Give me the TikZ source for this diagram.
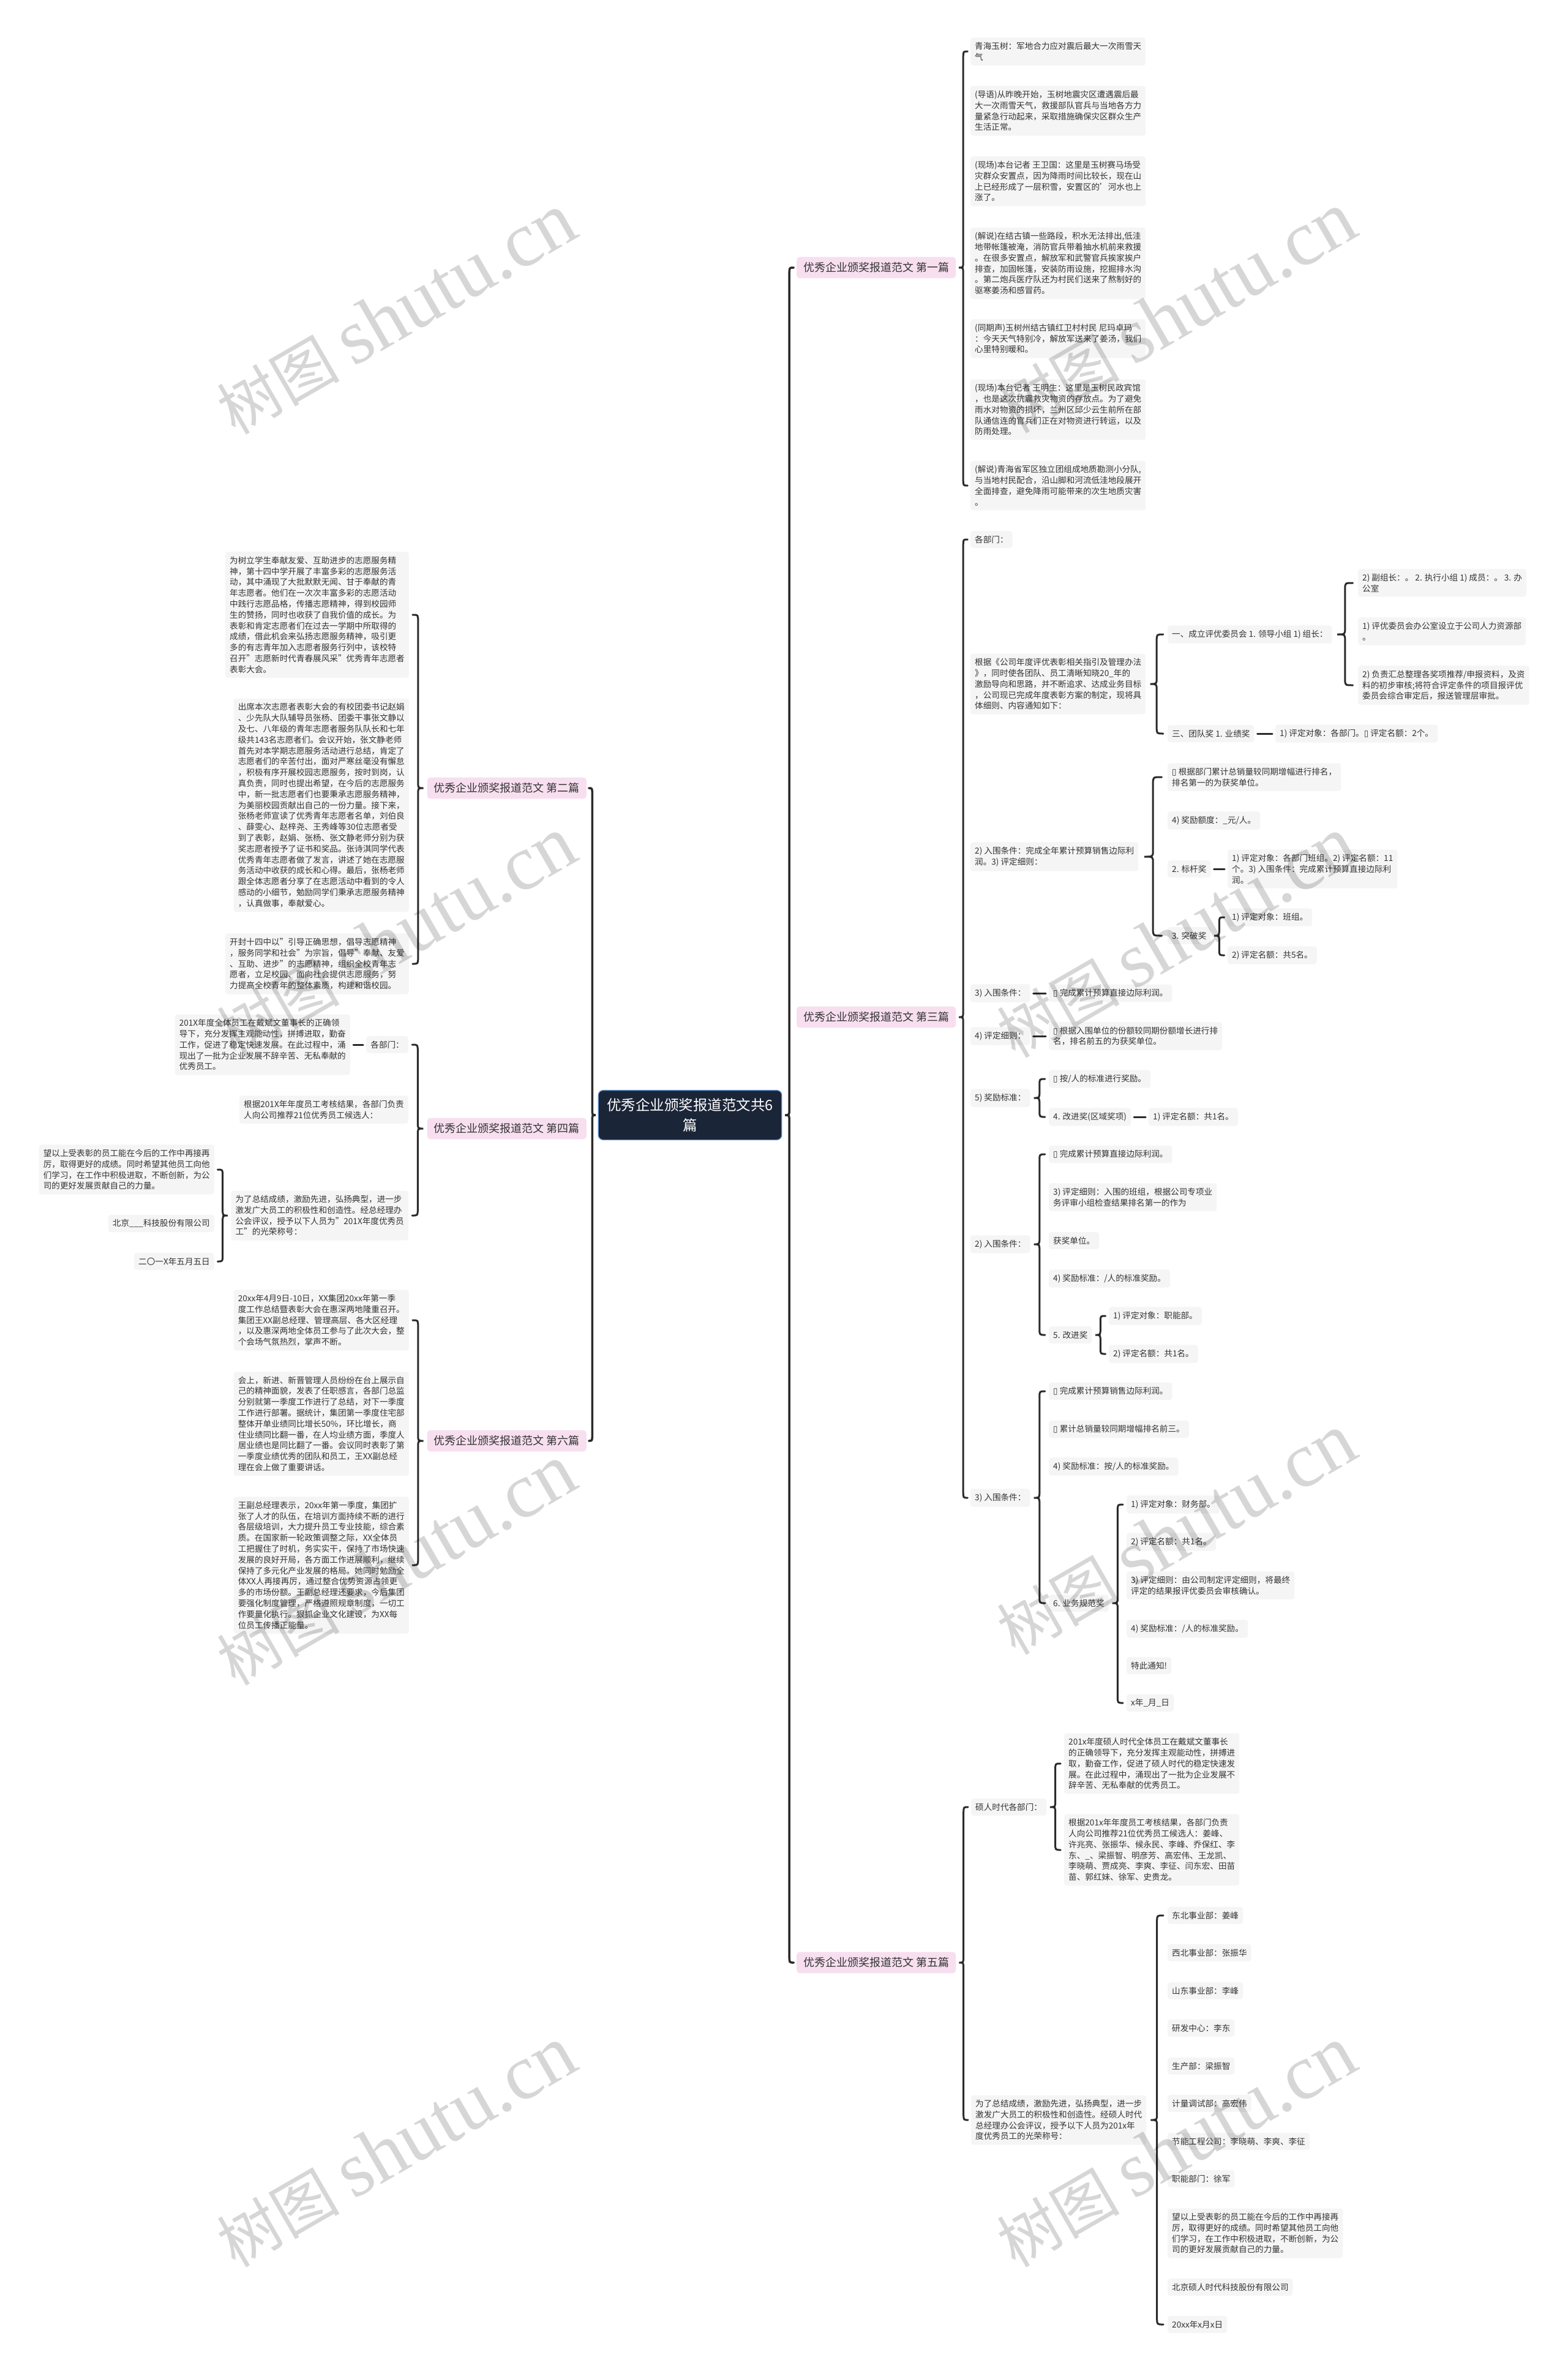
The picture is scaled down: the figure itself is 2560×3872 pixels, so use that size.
\documentclass[tikz,border=0pt]{standalone}
\usepackage{fontspec}
\setmainfont{Noto Sans CJK SC}
\newfontfamily\djv{DejaVu Sans}
\newfontfamily\wmserif{Liberation Serif}
\usetikzlibrary{calc}
\definecolor{leafbg}{HTML}{F5F5F5}
\definecolor{pinkbg}{HTML}{F7DFF0}
\definecolor{navyfill}{HTML}{1B2538}
\definecolor{navyline}{HTML}{5B8BC5}
\definecolor{txt}{HTML}{333333}
\definecolor{linec}{HTML}{2A2A2A}
\newcommand\boxglyph{{\djv ▯}}
\tikzset{
  leaf/.style={fill=leafbg, rounded corners=4pt, inner xsep=7pt, inner ysep=7.5pt, align=left, text=txt, font=\fontsize{13.6}{17.8}\selectfont},
  branch/.style={fill=pinkbg, rounded corners=5pt, inner xsep=11pt, inner ysep=9pt, text=txt, font=\fontsize{18}{22}\selectfont},
  rootnode/.style={fill=navyfill, draw=navyline, line width=1.3pt, rounded corners=8pt, inner xsep=14pt, inner ysep=13pt, align=center, text=white, font=\fontsize{23.5}{33}\selectfont},
  conn/.style={draw=linec, line width=3pt, line cap=round},
  rootconn/.style={draw=linec, line width=3.5pt, line cap=round},
  single/.style={conn, shorten <=5pt, shorten >=5pt},
  wm/.style={text=black, text opacity=0.16, rotate=30, inner sep=0pt, font=\fontsize{100}{100}\selectfont}
}
% brace to the right: parent, first child, last child
\newcommand\bracer[4][conn]{%
  \draw[#1] let \p1=(#2.east), \p2=(#3.west), \p3=(#4.west),
    \p4=($(\p1)!0.5!(\p2)$), \p5=($(\p1)!0.2!(\p2)$), \p6=($(\p1)!0.8!(\p2)$) in
    (\x6,\y2) .. controls (\x4,\y2) .. (\x4,{\y2-10pt}) -- (\x4,{\y1+10pt})
    .. controls (\x4,\y1) .. (\x5,\y1) .. controls (\x4,\y1) .. (\x4,{\y1-10pt})
    -- (\x4,{\y3+10pt}) .. controls (\x4,\y3) .. (\x6,\y3);}
% brace to the left
\newcommand\bracel[4][conn]{%
  \draw[#1] let \p1=(#2.west), \p2=(#3.east), \p3=(#4.east),
    \p4=($(\p1)!0.5!(\p2)$), \p5=($(\p1)!0.2!(\p2)$), \p6=($(\p1)!0.8!(\p2)$) in
    (\x6,\y2) .. controls (\x4,\y2) .. (\x4,{\y2-10pt}) -- (\x4,{\y1+10pt})
    .. controls (\x4,\y1) .. (\x5,\y1) .. controls (\x4,\y1) .. (\x4,{\y1-10pt})
    -- (\x4,{\y3+10pt}) .. controls (\x4,\y3) .. (\x6,\y3);}
\begin{document}
\begin{tikzpicture}[x=1pt,y=-1pt]
\useasboundingbox (0,0) rectangle (2560,3872);
\fill[white] (0,0) rectangle (2560,3872);

% root
\node[rootnode] (root) at (1127,1821) {优秀企业颁奖报道范文共6\\篇};

% branches
\node[branch, anchor=west] (sec1) at (1301,437) {优秀企业颁奖报道范文 第一篇};
\node[branch, anchor=west] (sec3) at (1301,1661) {优秀企业颁奖报道范文 第三篇};
\node[branch, anchor=west] (sec5) at (1301,3205) {优秀企业颁奖报道范文 第五篇};
\node[branch, anchor=east] (sec2) at (958,1287) {优秀企业颁奖报道范文 第二篇};
\node[branch, anchor=east] (sec4) at (958,1843) {优秀企业颁奖报道范文 第四篇};
\node[branch, anchor=east] (sec6) at (958,2353) {优秀企业颁奖报道范文 第六篇};

% ---------- section 1
\node[leaf, anchor=west] (s1a) at (1585,84) {青海玉树：军地合力应对震后最大一次雨雪天\\气};
\node[leaf, anchor=west] (s1b) at (1585,181) {(导语)从昨晚开始，玉树地震灾区遭遇震后最\\大一次雨雪天气，救援部队官兵与当地各方力\\量紧急行动起来，采取措施确保灾区群众生产\\生活正常。};
\node[leaf, anchor=west] (s1c) at (1585,296) {(现场)本台记者 王卫国：这里是玉树赛马场受\\灾群众安置点，因为降雨时间比较长，现在山\\上已经形成了一层积雪，安置区的'河水也上\\涨了。};
\node[leaf, anchor=west] (s1d) at (1585,430) {(解说)在结古镇一些路段，积水无法排出,低洼\\地带帐篷被淹，消防官兵带着抽水机前来救援\\。在很多安置点，解放军和武警官兵挨家挨户\\排查，加固帐篷，安装防雨设施，挖掘排水沟\\。第二炮兵医疗队还为村民们送来了熬制好的\\驱寒姜汤和感冒药。};
\node[leaf, anchor=west] (s1e) at (1585,553) {(同期声)玉树州结古镇红卫村村民 尼玛卓玛\\：今天天气特别冷，解放军送来了姜汤，我们\\心里特别暖和。};
\node[leaf, anchor=west] (s1f) at (1585,669) {(现场)本台记者 王明生：这里是玉树民政宾馆\\，也是这次抗震救灾物资的存放点。为了避免\\雨水对物资的损坏，兰州区邱少云生前所在部\\队通信连的官兵们正在对物资进行转运，以及\\防雨处理。};
\node[leaf, anchor=west] (s1g) at (1585,793) {(解说)青海省军区独立团组成地质勘测小分队,\\与当地村民配合，沿山脚和河流低洼地段展开\\全面排查，避免降雨可能带来的次生地质灾害\\。};

% ---------- section 3
\node[leaf, anchor=west] (s3a) at (1585,881) {各部门：};
\node[leaf, anchor=west] (s3b) at (1585,1117) {根据《公司年度评优表彰相关指引及管理办法\\》，同时使各团队、员工清晰知晓20\_年的\\激励导向和思路，并不断追求、达成业务目标\\，公司现已完成年度表彰方案的制定，现将具\\体细则、内容通知如下：};
\node[leaf, anchor=west] (s3b1) at (1907,1036) {一、成立评优委员会 1. 领导小组 1) 组长：};
\node[leaf, anchor=west] (s3b1a) at (2218,952) {2) 副组长：。 2. 执行小组 1) 成员：。 3. 办\\公室};
\node[leaf, anchor=west] (s3b1b) at (2218,1031) {1) 评优委员会办公室设立于公司人力资源部\\。};
\node[leaf, anchor=west] (s3b1c) at (2218,1119) {2) 负责汇总整理各奖项推荐/申报资料，及资\\料的初步审核;将符合评定条件的项目报评优\\委员会综合审定后，报送管理层审批。};
\node[leaf, anchor=west] (s3b2) at (1907,1198) {三、团队奖 1. 业绩奖};
\node[leaf, anchor=west] (s3b2a) at (2083,1198) {1) 评定对象：各部门。\boxglyph{} 评定名额：2个。};
\node[leaf, anchor=west] (s3c) at (1585,1399) {2) 入围条件：完成全年累计预算销售边际利\\润。3) 评定细则：};
\node[leaf, anchor=west] (s3c1) at (1907,1269) {\boxglyph{} 根据部门累计总销量较同期增幅进行排名，\\排名第一的为获奖单位。};
\node[leaf, anchor=west] (s3c2) at (1907,1340) {4) 奖励额度：\_元/人。};
\node[leaf, anchor=west] (s3c3) at (1907,1419) {2. 标杆奖};
\node[leaf, anchor=west] (s3c3a) at (2005,1419) {1) 评定对象：各部门班组。2) 评定名额：11\\个。3) 入围条件：完成累计预算直接边际利\\润。};
\node[leaf, anchor=west] (s3c4) at (1907,1528) {3. 突破奖};
\node[leaf, anchor=west] (s3c4a) at (2005,1498) {1) 评定对象：班组。};
\node[leaf, anchor=west] (s3c4b) at (2005,1560) {2) 评定名额：共5名。};
\node[leaf, anchor=west] (s3d) at (1585,1622) {3) 入围条件：};
\node[leaf, anchor=west] (s3d1) at (1713,1622) {\boxglyph{} 完成累计预算直接边际利润。};
\node[leaf, anchor=west] (s3e) at (1585,1692) {4) 评定细则：};
\node[leaf, anchor=west] (s3e1) at (1713,1692) {\boxglyph{} 根据入围单位的份额较同期份额增长进行排\\名，排名前五的为获奖单位。};
\node[leaf, anchor=west] (s3f) at (1585,1793) {5) 奖励标准：};
\node[leaf, anchor=west] (s3f1) at (1713,1762) {\boxglyph{} 按/人的标准进行奖励。};
\node[leaf, anchor=west] (s3f2) at (1713,1824) {4. 改进奖(区域奖项)};
\node[leaf, anchor=west] (s3f2a) at (1876,1824) {1) 评定名额：共1名。};
\node[leaf, anchor=west] (s3g) at (1585,2032) {2) 入围条件：};
\node[leaf, anchor=west] (s3g1) at (1713,1885) {\boxglyph{} 完成累计预算直接边际利润。};
\node[leaf, anchor=west] (s3g2) at (1713,1955) {3) 评定细则：入围的班组，根据公司专项业\\务评审小组检查结果排名第一的作为};
\node[leaf, anchor=west] (s3g3) at (1713,2026) {获奖单位。};
\node[leaf, anchor=west] (s3g4) at (1713,2088) {4) 奖励标准：/人的标准奖励。};
\node[leaf, anchor=west] (s3g5) at (1713,2180) {5. 改进奖};
\node[leaf, anchor=west] (s3g5a) at (1811,2149) {1) 评定对象：职能部。};
\node[leaf, anchor=west] (s3g5b) at (1811,2211) {2) 评定名额：共1名。};
\node[leaf, anchor=west] (s3h) at (1585,2446) {3) 入围条件：};
\node[leaf, anchor=west] (s3h1) at (1713,2272) {\boxglyph{} 完成累计预算销售边际利润。};
\node[leaf, anchor=west] (s3h2) at (1713,2334) {\boxglyph{} 累计总销量较同期增幅排名前三。};
\node[leaf, anchor=west] (s3h3) at (1713,2395) {4) 奖励标准：按/人的标准奖励。};
\node[leaf, anchor=west] (s3h4) at (1713,2618) {6. 业务规范奖};
\node[leaf, anchor=west] (s3h4a) at (1840,2457) {1) 评定对象：财务部。};
\node[leaf, anchor=west] (s3h4b) at (1840,2518) {2) 评定名额：共1名。};
\node[leaf, anchor=west] (s3h4c) at (1840,2589) {3) 评定细则：由公司制定评定细则，将最终\\评定的结果报评优委员会审核确认。};
\node[leaf, anchor=west] (s3h4d) at (1840,2660) {4) 奖励标准：/人的标准奖励。};
\node[leaf, anchor=west] (s3h4e) at (1840,2720) {特此通知!};
\node[leaf, anchor=west] (s3h4f) at (1840,2781) {x年\_月\_日};

% ---------- section 5
\node[leaf, anchor=west] (s5a) at (1586,2951) {硕人时代各部门：};
\node[leaf, anchor=west] (s5a1) at (1738,2880) {201x年度硕人时代全体员工在戴斌文董事长\\的正确领导下，充分发挥主观能动性，拼搏进\\取，勤奋工作，促进了硕人时代的稳定快速发\\展。在此过程中，涌现出了一批为企业发展不\\辞辛苦、无私奉献的优秀员工。};
\node[leaf, anchor=west] (s5a2) at (1738,3021) {根据201x年年度员工考核结果，各部门负责\\人向公司推荐21位优秀员工候选人：姜峰、\\许兆亮、张振华、候永民、李峰、乔保红、李\\东、\_、梁振智、明彦芳、高宏伟、王龙凯、\\李晓萌、贾成亮、李爽、李征、闫东宏、田苗\\苗、郭红妹、徐军、史贵龙。};
\node[leaf, anchor=west] (s5b) at (1586,3462) {为了总结成绩，激励先进，弘扬典型，进一步\\激发广大员工的积极性和创造性。经硕人时代\\总经理办公会评议，授予以下人员为201x年\\度优秀员工的光荣称号：};
\node[leaf, anchor=west] (s5b1) at (1907,3128) {东北事业部：姜峰};
\node[leaf, anchor=west] (s5b2) at (1907,3189) {西北事业部：张振华};
\node[leaf, anchor=west] (s5b3) at (1907,3251) {山东事业部：李峰};
\node[leaf, anchor=west] (s5b4) at (1907,3312) {研发中心：李东};
\node[leaf, anchor=west] (s5b5) at (1907,3374) {生产部：梁振智};
\node[leaf, anchor=west] (s5b6) at (1907,3435) {计量调试部：高宏伟};
\node[leaf, anchor=west] (s5b7) at (1907,3497) {节能工程公司：李晓萌、李爽、李征};
\node[leaf, anchor=west] (s5b8) at (1907,3558) {职能部门：徐军};
\node[leaf, anchor=west] (s5b9) at (1907,3647) {望以上受表彰的员工能在今后的工作中再接再\\厉，取得更好的成绩。同时希望其他员工向他\\们学习，在工作中积极进取，不断创新，为公\\司的更好发展贡献自己的力量。};
\node[leaf, anchor=west] (s5b10) at (1907,3735) {北京硕人时代科技股份有限公司};
\node[leaf, anchor=west] (s5b11) at (1907,3796) {20xx年x月x日};

% ---------- section 2
\node[leaf, anchor=east] (s2a) at (668,1004) {为树立学生奉献友爱、互助进步的志愿服务精\\神，第十四中学开展了丰富多彩的志愿服务活\\动，其中涌现了大批默默无闻、甘于奉献的青\\年志愿者。他们在一次次丰富多彩的志愿活动\\中践行志愿品格，传播志愿精神，得到校园师\\生的赞扬，同时也收获了自我价值的成长。为\\表彰和肯定志愿者们在过去一学期中所取得的\\成绩，借此机会来弘扬志愿服务精神，吸引更\\多的有志青年加入志愿者服务行列中，该校特\\召开"志愿新时代青春展风采"优秀青年志愿者\\表彰大会。};
\node[leaf, anchor=east] (s2b) at (668,1315) {出席本次志愿者表彰大会的有校团委书记赵娟\\、少先队大队辅导员张杨、团委干事张文静以\\及七、八年级的青年志愿者服务队队长和七年\\级共143名志愿者们。会议开始，张文静老师\\首先对本学期志愿服务活动进行总结，肯定了\\志愿者们的辛苦付出，面对严寒丝毫没有懈怠\\，积极有序开展校园志愿服务，按时到岗，认\\真负责，同时也提出希望，在今后的志愿服务\\中，新一批志愿者们也要秉承志愿服务精神，\\为美丽校园贡献出自己的一份力量。接下来，\\张杨老师宣读了优秀青年志愿者名单，刘伯良\\、薛雯心、赵梓尧、王秀峰等30位志愿者受\\到了表彰，赵娟、张杨、张文静老师分别为获\\奖志愿者授予了证书和奖品。张诗淇同学代表\\优秀青年志愿者做了发言，讲述了她在志愿服\\务活动中收获的成长和心得。最后，张杨老师\\跟全体志愿者分享了在志愿活动中看到的令人\\感动的小细节，勉励同学们秉承志愿服务精神\\，认真做事，奉献爱心。};
\node[leaf, anchor=east] (s2c) at (668,1574) {开封十四中以"引导正确思想，倡导志愿精神\\，服务同学和社会"为宗旨，倡导"奉献、友爱\\、互助、进步"的志愿精神，组织全校青年志\\愿者，立足校园、面向社会提供志愿服务，努\\力提高全校青年的整体素质，构建和谐校园。};

% ---------- section 4
\node[leaf, anchor=east] (s4a) at (667,1706) {各部门：};
\node[leaf, anchor=east] (s4a1) at (572,1706) {201X年度全体员工在戴斌文董事长的正确领\\导下，充分发挥主观能动性，拼搏进取，勤奋\\工作，促进了稳定快速发展。在此过程中，涌\\现出了一批为企业发展不辞辛苦、无私奉献的\\优秀员工。};
\node[leaf, anchor=east] (s4b) at (667,1812) {根据201X年年度员工考核结果，各部门负责\\人向公司推荐21位优秀员工候选人：};
\node[leaf, anchor=east] (s4c) at (667,1985) {为了总结成绩，激励先进，弘扬典型，进一步\\激发广大员工的积极性和创造性。经总经理办\\公会评议，授予以下人员为"201X年度优秀员\\工"的光荣称号：};
\node[leaf, anchor=east] (s4c1) at (350,1910) {望以上受表彰的员工能在今后的工作中再接再\\厉，取得更好的成绩。同时希望其他员工向他\\们学习，在工作中积极进取，不断创新，为公\\司的更好发展贡献自己的力量。};
\node[leaf, anchor=east] (s4c2) at (350,1998) {北京\_\_\_科技股份有限公司};
\node[leaf, anchor=east] (s4c3) at (350,2060) {二〇一X年五月五日};

% ---------- section 6
\node[leaf, anchor=east] (s6a) at (668,2156) {20xx年4月9日-10日，XX集团20xx年第一季\\度工作总结暨表彰大会在惠深两地隆重召开。\\集团王XX副总经理、管理高层、各大区经理\\，以及惠深两地全体员工参与了此次大会，整\\个会场气氛热烈，掌声不断。};
\node[leaf, anchor=east] (s6b) at (668,2325) {会上，新进、新晋管理人员纷纷在台上展示自\\己的精神面貌，发表了任职感言，各部门总监\\分别就第一季度工作进行了总结，对下一季度\\工作进行部署。据统计，集团第一季度住宅部\\整体开单业绩同比增长50\%，环比增长，商\\住业绩同比翻一番，在人均业绩方面，季度人\\居业绩也是同比翻了一番。会议同时表彰了第\\一季度业绩优秀的团队和员工，王XX副总经\\理在会上做了重要讲话。};
\node[leaf, anchor=east] (s6c) at (668,2556) {王副总经理表示，20xx年第一季度，集团扩\\张了人才的队伍，在培训方面持续不断的进行\\各层级培训，大力提升员工专业技能，综合素\\质。在国家新一轮政策调整之际，XX全体员\\工把握住了时机，务实实干，保持了市场快速\\发展的良好开局，各方面工作进展顺利，继续\\保持了多元化产业发展的格局。她同时勉励全\\体XX人再接再厉，通过整合优势资源占领更\\多的市场份额。王副总经理还要求，今后集团\\要强化制度管理，严格遵照规章制度，一切工\\作要量化执行。狠抓企业文化建设，为XX每\\位员工传播正能量。};

% ---------- connectors
\bracer[rootconn]{root}{sec1}{sec5}
\bracel[rootconn]{root}{sec2}{sec6}
\bracer{sec1}{s1a}{s1g}
\bracer{sec3}{s3a}{s3h}
\bracer{s3b}{s3b1}{s3b2}
\bracer{s3b1}{s3b1a}{s3b1c}
\draw[single] (s3b2.east) -- (s3b2a.west);
\bracer{s3c}{s3c1}{s3c4}
\draw[single] (s3c3.east) -- (s3c3a.west);
\bracer{s3c4}{s3c4a}{s3c4b}
\draw[single] (s3d.east) -- (s3d1.west);
\draw[single] (s3e.east) -- (s3e1.west);
\bracer{s3f}{s3f1}{s3f2}
\draw[single] (s3f2.east) -- (s3f2a.west);
\bracer{s3g}{s3g1}{s3g5}
\bracer{s3g5}{s3g5a}{s3g5b}
\bracer{s3h}{s3h1}{s3h4}
\bracer{s3h4}{s3h4a}{s3h4f}
\bracer{sec5}{s5a}{s5b}
\bracer{s5a}{s5a1}{s5a2}
\bracer{s5b}{s5b1}{s5b11}
\bracel{sec2}{s2a}{s2c}
\bracel{sec4}{s4a}{s4c}
\draw[single] (s4a.west) -- (s4a1.east);
\bracel{s4c}{s4c1}{s4c3}
\bracel{sec6}{s6a}{s6c}

% ---------- watermarks
\foreach \wx/\wy [count=\i] in {647/513, 1921/511, 647/1531, 1921/1531, 647/2556, 1921/2506, 647/3506, 1921/3506}{
  \node[wm] (wm\i) at (\wx,\wy) {树图 {\wmserif\fontsize{128}{128}\selectfont shutu.cn}};
}
\end{tikzpicture}
\end{document}
